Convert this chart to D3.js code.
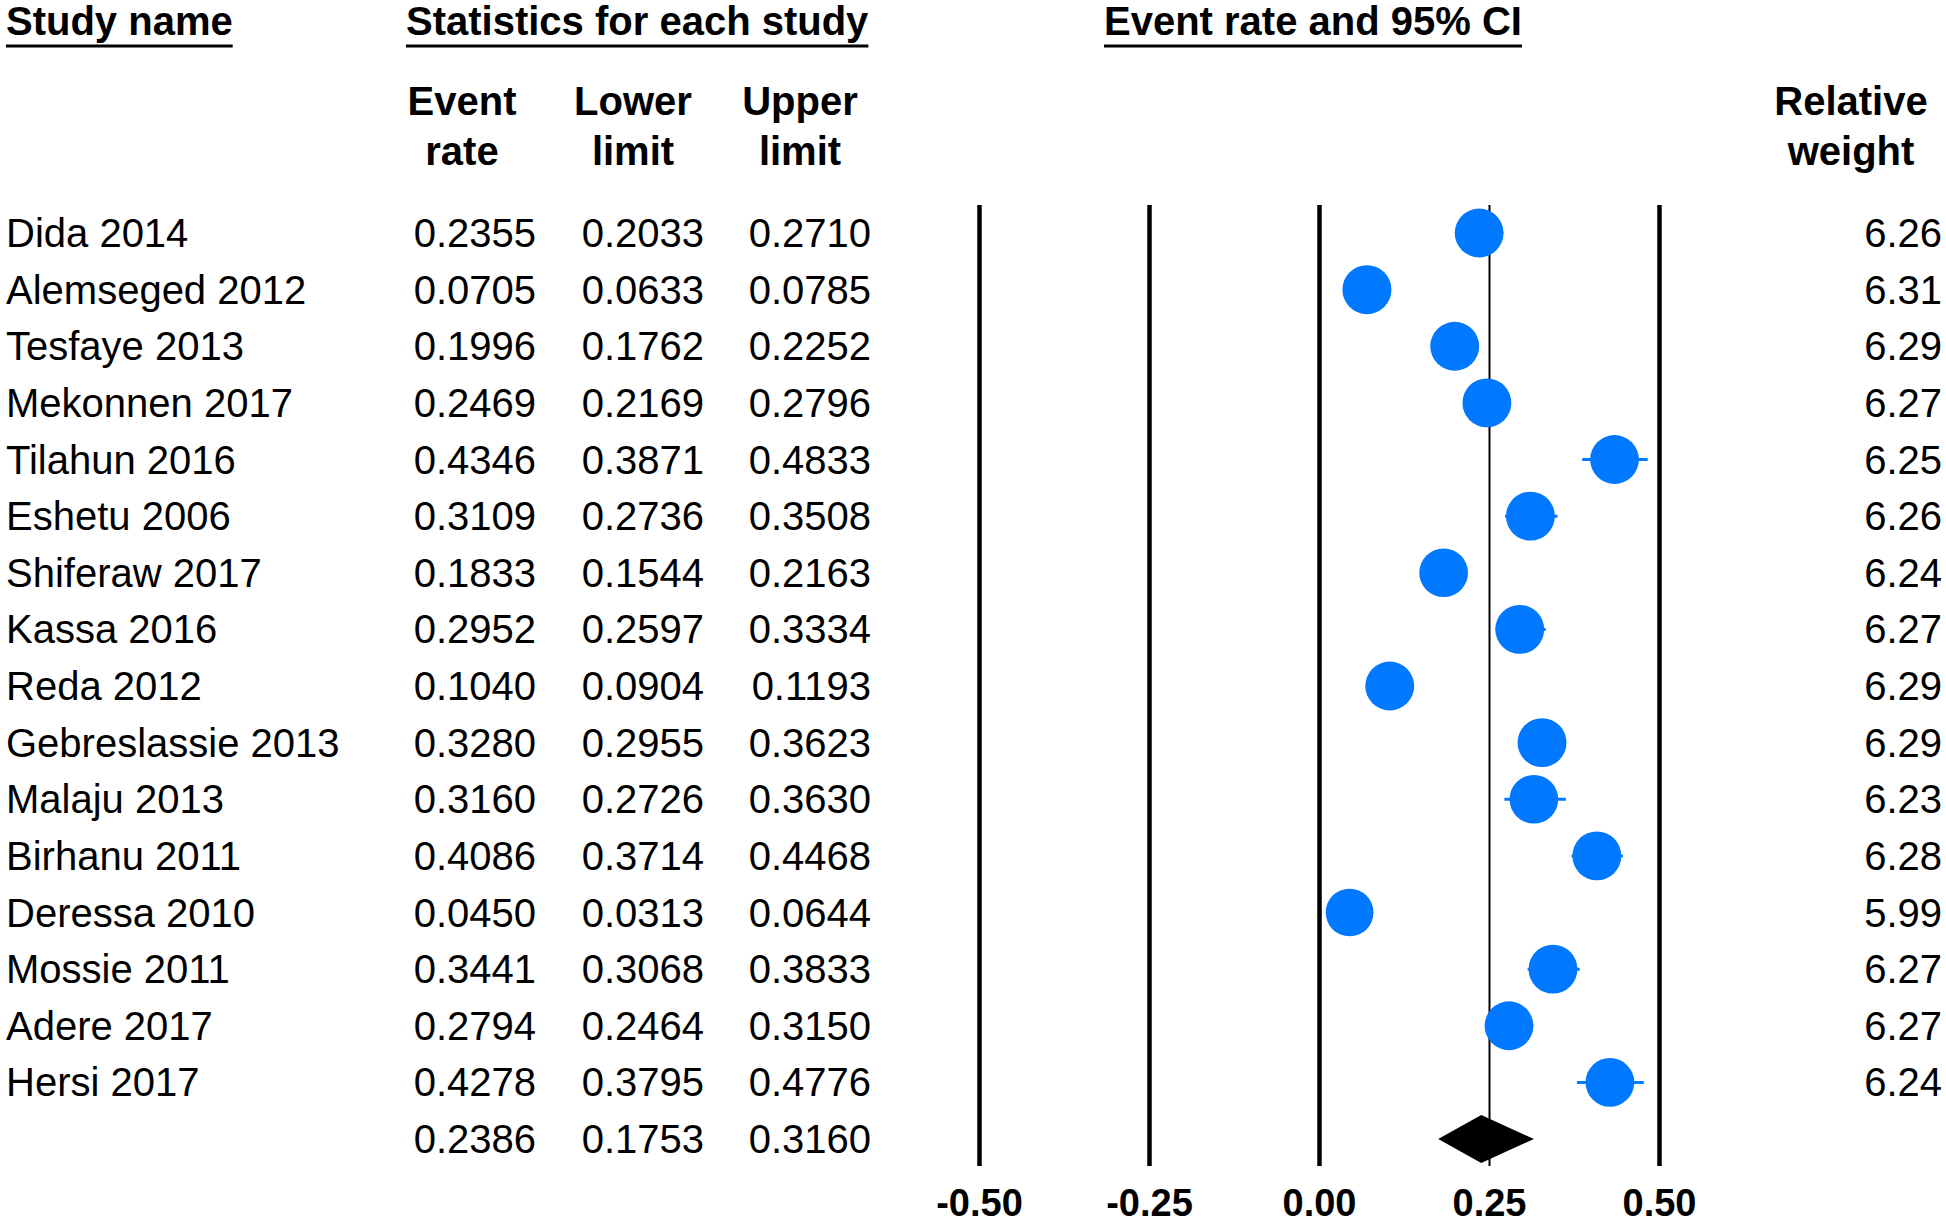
<!DOCTYPE html>
<html lang="en">
<head>
  <meta charset="UTF-8">
  <script src="https://d3js.org/d3.v7.min.js"></script>
  <title>forest plot</title>
  <style>
    body { margin: 0; background: #fff; }
    text { font-family: "Liberation Sans", Arial, sans-serif; fill: #000; }
  </style>
</head>
<body>
</body>
<script>
  // studies and their statistics
  let studies = ['Dida 2014', 'Alemseged 2012', 'Tesfaye 2013', 'Mekonnen 2017', 'Tilahun 2016',
    'Eshetu 2006', 'Shiferaw 2017', 'Kassa 2016', 'Reda 2012', 'Gebreslassie 2013',
    'Malaju 2013', 'Birhanu 2011', 'Deressa 2010', 'Mossie 2011', 'Adere 2017', 'Hersi 2017']
  let eventRate = [0.2355, 0.0705, 0.1996, 0.2469, 0.4346, 0.3109, 0.1833, 0.2952, 0.1040, 0.3280,
    0.3160, 0.4086, 0.0450, 0.3441, 0.2794, 0.4278]
  let lowerLimit = [0.2033, 0.0633, 0.1762, 0.2169, 0.3871, 0.2736, 0.1544, 0.2597, 0.0904, 0.2955,
    0.2726, 0.3714, 0.0313, 0.3068, 0.2464, 0.3795]
  let upperLimit = [0.2710, 0.0785, 0.2252, 0.2796, 0.4833, 0.3508, 0.2163, 0.3334, 0.1193, 0.3623,
    0.3630, 0.4468, 0.0644, 0.3833, 0.3150, 0.4776]
  let relWeight = [6.26, 6.31, 6.29, 6.27, 6.25, 6.26, 6.24, 6.27, 6.29, 6.29,
    6.23, 6.28, 5.99, 6.27, 6.27, 6.24]

  // pooled estimate (last row)
  let pooledRate = 0.2386
  let pooledLower = 0.1753
  let pooledUpper = 0.3160

  let xTicks = [-0.50, -0.25, 0.00, 0.25, 0.50]
  let refLine = 0.25

  let width = 1946
  let height = 1224

  let svg = d3.select('body')
    .append('svg')
    .attr('width', width)
    .attr('height', height)

  let fs = 40
  let fmt4 = d3.format('.4f')
  let fmt2 = d3.format('.2f')

  // rows: 16 studies + pooled
  let y = d3.scalePoint()
    .domain(d3.range(studies.length + 1))
    .range([233, 1139])

  let x = d3.scaleLinear()
    .domain([0, 0.5])
    .range([1319, 1659])

  let r = d3.scaleSqrt()
    .domain([0, d3.max(relWeight)])
    .range([0, 24.5])

  // ---- headers ----
  let head = svg.append('g').attr('font-weight', 'bold').attr('font-size', fs)

  let titles = [
    { t: 'Study name', x: 6 },
    { t: 'Statistics for each study', x: 406 },
    { t: 'Event rate and 95% CI', x: 1104 }
  ]
  titles.forEach(d => {
    let txt = head.append('text')
      .attr('x', d.x)
      .attr('y', 35)
      .text(d.t)
    let w = txt.node().getComputedTextLength()
    head.append('line')
      .attr('x1', d.x).attr('x2', d.x + w)
      .attr('y1', 46).attr('y2', 46)
      .attr('stroke', '#000')
      .attr('stroke-width', 3)
  })

  let colHeads = [
    { l1: 'Event', l2: 'rate', x: 462 },
    { l1: 'Lower', l2: 'limit', x: 633 },
    { l1: 'Upper', l2: 'limit', x: 800 },
    { l1: 'Relative', l2: 'weight', x: 1851 }
  ]
  colHeads.forEach(d => {
    head.append('text').attr('x', d.x).attr('y', 115).attr('text-anchor', 'middle').text(d.l1)
    head.append('text').attr('x', d.x).attr('y', 165).attr('text-anchor', 'middle').text(d.l2)
  })

  // ---- axis with full-height tick lines ----
  let axisY = 1166
  let axis = d3.axisBottom(x)
    .tickValues(xTicks)
    .tickFormat(d => d3.format('.2f')(d).replace('\u2212', '-'))
    .tickSizeInner(-(axisY - 205))
    .tickSizeOuter(0)
    .tickPadding(23)

  let gx = svg.append('g')
    .attr('transform', `translate(0,${axisY})`)
    .call(axis)
  gx.select('.domain').remove()
  gx.selectAll('.tick line')
    .attr('stroke', '#000')
    .attr('stroke-width', d => d === refLine ? 2 : 4.5)
  gx.selectAll('.tick text')
    .attr('font-size', 38)
    .attr('font-weight', 'bold')
    .attr('font-family', '"Liberation Sans", Arial, sans-serif')
    .attr('fill', '#000')

  // ---- table text ----
  let rows = svg.append('g').attr('font-size', fs)

  rows.selectAll('.name')
    .data(studies)
    .enter()
    .append('text')
    .attr('class', 'name')
    .attr('x', 6)
    .attr('y', (d, i) => y(i) + 14)
    .text(d => d)

  let cols = [
    { vals: eventRate.concat([pooledRate]), x: 536 },
    { vals: lowerLimit.concat([pooledLower]), x: 704 },
    { vals: upperLimit.concat([pooledUpper]), x: 871 }
  ]
  cols.forEach(c => {
    rows.append('g').selectAll('text')
      .data(c.vals)
      .enter()
      .append('text')
      .attr('x', c.x)
      .attr('y', (d, i) => y(i) + 14)
      .attr('text-anchor', 'end')
      .text(d => fmt4(d))
  })

  rows.append('g').selectAll('text')
    .data(relWeight)
    .enter()
    .append('text')
    .attr('x', 1942)
    .attr('y', (d, i) => y(i) + 14)
    .attr('text-anchor', 'end')
    .text(d => fmt2(d))

  // ---- confidence intervals and points ----
  let blue = '#0078ff'
  let marks = svg.append('g')

  marks.selectAll('line.ci')
    .data(studies)
    .enter()
    .append('line')
    .attr('class', 'ci')
    .attr('x1', (d, i) => x(lowerLimit[i]))
    .attr('x2', (d, i) => x(upperLimit[i]))
    .attr('y1', (d, i) => y(i))
    .attr('y2', (d, i) => y(i))
    .attr('stroke', blue)
    .attr('stroke-width', 3)

  marks.selectAll('circle')
    .data(studies)
    .enter()
    .append('circle')
    .attr('cx', (d, i) => x(eventRate[i]))
    .attr('cy', (d, i) => y(i))
    .attr('r', (d, i) => r(relWeight[i]))
    .attr('fill', blue)

  // pooled diamond
  let py = y(studies.length)
  let dh = 24
  marks.append('path')
    .attr('d', `M${x(pooledLower)},${py} L${x(pooledRate)},${py - dh} L${x(pooledUpper)},${py} L${x(pooledRate)},${py + dh} Z`)
    .attr('fill', '#000')
</script>
</html>
